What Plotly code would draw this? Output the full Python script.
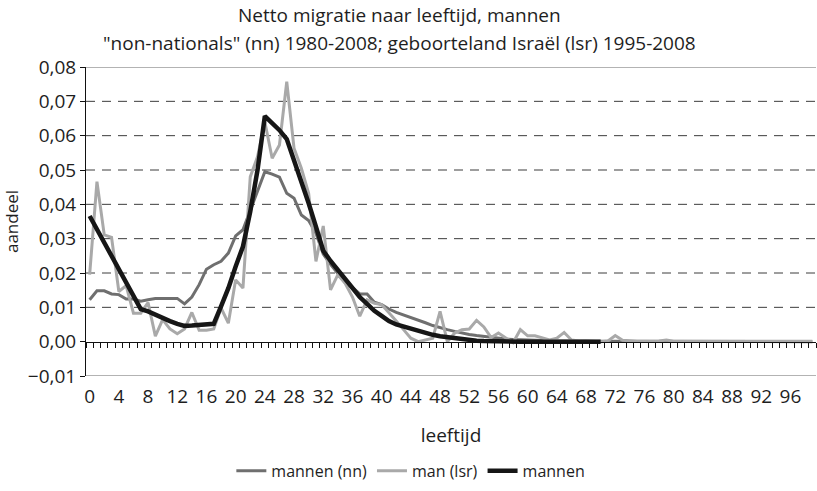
import plotly.graph_objects as go

# leeftijd 0..99
leeftijd = list(range(100))

# netto migratie, "non-nationals" 1980-2008
mannen_nn = [
    0.0122, 0.0148, 0.0148, 0.0139, 0.0137, 0.0124, 0.0124, 0.0118, 0.0122, 0.0126,
    0.0126, 0.0126, 0.0126, 0.0110, 0.0130, 0.0166, 0.0211, 0.0224, 0.0234, 0.0258,
    0.0308, 0.0326, 0.0384, 0.0437, 0.0495, 0.0488, 0.0479, 0.0432, 0.0418, 0.0369,
    0.0353, 0.0316, 0.0255, 0.0225, 0.0200, 0.0172, 0.0158, 0.0139, 0.0139, 0.0115,
    0.0108, 0.0095, 0.0085, 0.0078, 0.0070, 0.0062, 0.0055, 0.0047, 0.0040, 0.0035,
    0.0030, 0.0025, 0.0021, 0.0018, 0.0015, 0.0012, 0.0010, 0.0008, 0.0006, 0.0005,
    0.0004, 0.0003, 0.0003, 0.0002, 0.0002, 0.0002, 0.0001, 0.0001, 0.0001, 0.0001,
    0.0001, 0.0001, 0.0001, 0.0001, 0.0001, 0.0001, 0.0001, 0.0001, 0.0001, 0.0001,
    0.0000, 0.0000, 0.0000, 0.0000, 0.0000, 0.0000, 0.0000, 0.0000, 0.0000, 0.0000,
    0.0000, 0.0000, 0.0000, 0.0000, 0.0000, 0.0000, 0.0000, 0.0000, 0.0000, 0.0000,
]

# geboorteland Israel 1995-2008
man_lsr = [
    0.0195, 0.0466, 0.0311, 0.0304, 0.0146, 0.0163, 0.0083, 0.0083, 0.0114, 0.0016,
    0.0064, 0.0037, 0.0023, 0.0037, 0.0085, 0.0033, 0.0033, 0.0037, 0.0098, 0.0054,
    0.0180, 0.0156, 0.0480, 0.0539, 0.0640, 0.0534, 0.0573, 0.0757, 0.0563, 0.0505,
    0.0432, 0.0234, 0.0337, 0.0151, 0.0195, 0.0170, 0.0130, 0.0074, 0.0122, 0.0112,
    0.0108, 0.0085, 0.0060, 0.0035, 0.0010, 0.0000, 0.0006, 0.0010, 0.0088, 0.0000,
    0.0025, 0.0035, 0.0037, 0.0062, 0.0043, 0.0012, 0.0025, 0.0010, -0.0003, 0.0035,
    0.0017, 0.0017, 0.0010, 0.0005, 0.0010, 0.0027, 0.0005, 0.0002, 0.0003, 0.0002,
    0.0000, 0.0002, 0.0018, 0.0004, 0.0002, 0.0001, 0.0001, 0.0001, 0.0002, 0.0005,
    0.0001, 0.0001, 0.0001, 0.0001, 0.0001, 0.0001, 0.0001, 0.0001, 0.0001, 0.0001,
    0.0001, 0.0001, 0.0001, 0.0001, 0.0001, 0.0001, 0.0001, 0.0001, 0.0001, 0.0001,
]

# mannen (gemiddeld), leeftijd 0..70
mannen = [
    0.0366, 0.0328, 0.0290, 0.0250, 0.0211, 0.0170, 0.0132, 0.0095, 0.0088, 0.0078,
    0.0069, 0.0060, 0.0052, 0.0046, 0.0047, 0.0049, 0.0050, 0.0052, 0.0103, 0.0156,
    0.0219, 0.0277, 0.0379, 0.0500, 0.0657, 0.0636, 0.0616, 0.0590, 0.0529, 0.0466,
    0.0403, 0.0335, 0.0265, 0.0235, 0.0210, 0.0180, 0.0155, 0.0130, 0.0110, 0.0090,
    0.0075, 0.0060, 0.0050, 0.0044, 0.0037, 0.0030, 0.0025, 0.0020, 0.0016, 0.0013,
    0.0010, 0.0007, 0.0005, 0.0003, 0.0002, 0.0001, 0.0001, 0.0001, 0.0001, 0.0000,
    0.0000, 0.0000, 0.0000, 0.0000, 0.0000, 0.0000, 0.0000, 0.0000, 0.0000, 0.0000,
    0.0000,
]

x_ticks = list(range(0, 97, 4))
y_ticks = [-0.01, 0.0, 0.01, 0.02, 0.03, 0.04, 0.05, 0.06, 0.07, 0.08]
grid_dashed = [0.01, 0.02, 0.03, 0.04, 0.05, 0.06, 0.07]
grid_plain = [-0.01, 0.08]

FONT = "'Open Sans', Lato, sans-serif"
TXT = "#1e1e1e"
FS = 19

fig = go.Figure()
fig.add_trace(go.Scatter(x=leeftijd, y=mannen_nn, mode="lines", name="mannen (nn)",
                         line=dict(color="#6f6f6f", width=3)))
fig.add_trace(go.Scatter(x=leeftijd, y=man_lsr, mode="lines", name="man (lsr)",
                         line=dict(color="#a9a9a9", width=3)))
fig.add_trace(go.Scatter(x=leeftijd[:len(mannen)], y=mannen, mode="lines", name="mannen",
                         line=dict(color="#161616", width=4.5)))
# dummy trace so the axis through y=0 is drawn
fig.add_trace(go.Scatter(x=[0, 99], y=[0, 0], xaxis="x2", mode="lines",
                         line=dict(width=0), showlegend=False, hoverinfo="skip"))

shapes = []
for g in grid_dashed:
    shapes.append(dict(type="line", xref="paper", yref="y", x0=0, x1=1, y0=g, y1=g,
                       line=dict(color="#3c3c3c", width=1, dash="9px,7px"), layer="below"))
for g in grid_plain:
    shapes.append(dict(type="line", xref="paper", yref="y", x0=0, x1=1, y0=g, y1=g,
                       line=dict(color="#9a9a9a", width=1.5), layer="below"))

fig.update_layout(
    width=817, height=491,
    margin=dict(l=86, r=1, t=67, b=115),
    paper_bgcolor="white", plot_bgcolor="white",
    font=dict(family=FONT, size=FS, color=TXT),
    separators=",.",
    showlegend=True,
    legend=dict(orientation="h", x=0.445, xanchor="center", y=-0.307, yanchor="middle",
                font=dict(size=16), itemwidth=30, tracegroupgap=0),
    xaxis=dict(range=[-0.5, 99.5], tickvals=x_ticks, ticks="outside", ticklen=3,
               tickcolor="rgba(0,0,0,0)", showgrid=False,
               zeroline=False, showline=False,
               title=dict(text="leeftijd", standoff=20, font=dict(size=FS)),
               tickfont=dict(size=FS)),
    xaxis2=dict(range=[-0.5, 99.5], overlaying="x", anchor="free", position=1 / 9,
                side="bottom", tickvals=[i - 0.5 for i in range(101)], ticks="outside",
                ticklen=5, tickwidth=1, tickcolor="#111", showticklabels=False,
                showgrid=False, zeroline=False, showline=True, linecolor="#111",
                linewidth=1),
    yaxis=dict(range=[-0.01, 0.08], tickvals=y_ticks, tickformat=".2f",
               ticks="outside", ticklen=5, tickcolor="#111",
               showline=True, linecolor="#111", linewidth=1, zeroline=False,
               showgrid=False,
               title=dict(text="aandeel", standoff=6, font=dict(size=17)),
               tickfont=dict(size=FS)),
    annotations=[
        dict(text="Netto migratie naar leeftijd, mannen", xref="paper", yref="paper",
             x=(400 - 86) / 731, y=1.168, xanchor="center", yanchor="middle",
             showarrow=False, font=dict(size=FS)),
        dict(text="\"non-nationals\" (nn) 1980-2008; geboorteland Israël (lsr) 1995-2008",
             xref="paper", yref="paper", x=(400 - 86) / 731, y=1.0777,
             xanchor="center", yanchor="middle", showarrow=False,
             font=dict(size=FS)),
    ],
    shapes=shapes,
)

fig.write_html("out.html", config={"displayModeBar": False},
               post_script="document.body.style.margin='0';")
